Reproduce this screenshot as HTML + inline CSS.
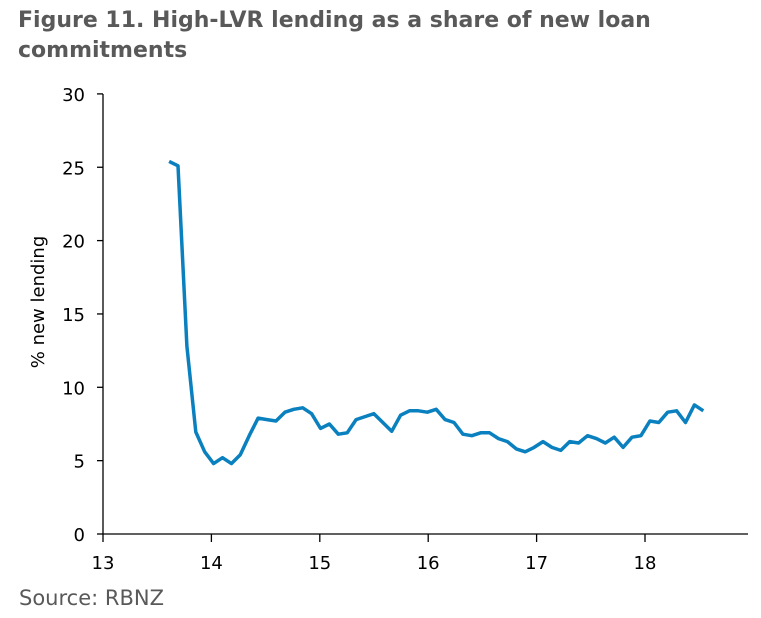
<!DOCTYPE html>
<html><head><meta charset="utf-8"><style>
body{margin:0;background:#fff;width:761px;height:618px;overflow:hidden;font-family:"DejaVu Sans","Liberation Sans",sans-serif}
#title{position:absolute;left:18px;top:6px;font-size:22px;font-weight:bold;color:#595959;line-height:30px}
#source{position:absolute;left:19px;top:586px;font-size:21px;color:#595959}
svg{position:absolute;left:0;top:0}
</style></head><body>
<div id="title">Figure 11. High-LVR lending as a share of new loan<br>commitments</div>
<svg id="chart" width="761" height="618"></svg>
<div id="source">Source: RBNZ</div>
<script>
const startYear = 13.61;
const values = [25.4,25.1,12.8,6.95,5.6,4.8,5.2,4.8,5.4,6.7,7.9,7.8,7.7,8.3,8.5,8.6,8.2,7.2,7.5,6.8,6.9,7.8,8.0,8.2,7.6,7.0,8.1,8.4,8.4,8.3,8.5,7.8,7.6,6.8,6.7,6.9,6.9,6.5,6.3,5.8,5.6,5.9,6.3,5.9,5.7,6.3,6.2,6.7,6.5,6.2,6.6,5.9,6.6,6.7,7.7,7.6,8.3,8.4,7.6,8.8,8.4];
const xTicks = [13,14,15,16,17,18];
const yTicks = [0,5,10,15,20,25,30];
const NS="http://www.w3.org/2000/svg";
const svg=document.getElementById('chart');
const X=v=>103+(v-13)*108.4;
const Y=v=>534-v*14.67;
function mk(t,a){const e=document.createElementNS(NS,t);for(const k in a)e.setAttribute(k,a[k]);svg.appendChild(e);return e;}
let ax=mk('line',{x1:103,y1:534,x2:748,y2:534,stroke:'#000','stroke-width':1.3});


let ay=mk('line',{x1:103,y1:94,x2:103,y2:534,stroke:'#000','stroke-width':1.3});


xTicks.forEach(t=>{
 const l=mk('line',{x1:X(t),y1:534,x2:X(t),y2:542,stroke:'#000','stroke-width':1.3});
 
 
 const tx=mk('text',{x:X(t),y:569,'text-anchor':'middle','font-size':18,fill:'#000'});
 tx.textContent=t;
 
 
});
yTicks.forEach(t=>{
 const l=mk('line',{x1:97,y1:Y(t),x2:103,y2:Y(t),stroke:'#000','stroke-width':1.3});
 
 
 const tx=mk('text',{x:85,y:Y(t)+7,'text-anchor':'end','font-size':18,fill:'#000'});
 tx.textContent=t;
 
 
});
const yt=mk('text',{x:0,y:0,'text-anchor':'middle','font-size':18,fill:'#000',transform:'translate(44,302) rotate(-90)'});
yt.textContent='% new lending';


const pts=values.map((v,i)=>X(startYear+i*0.9855/12).toFixed(1)+','+Y(v).toFixed(1)).join(' ');
const pl=mk('polyline',{points:pts,fill:'none',stroke:'#0a80bf','stroke-width':3.5,'stroke-linejoin':'round'});


</script>
</body></html>
